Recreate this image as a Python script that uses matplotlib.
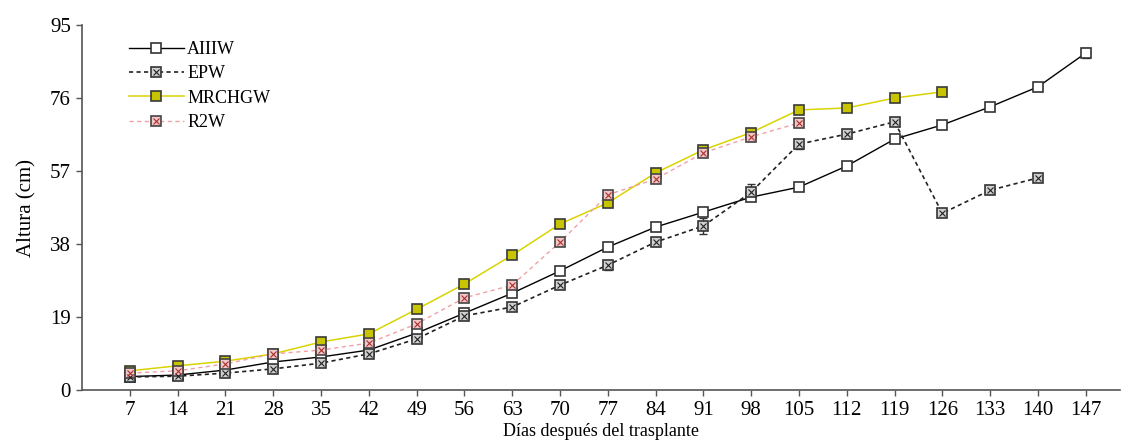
import numpy as np
import matplotlib.pyplot as plt
from matplotlib.legend_handler import HandlerTuple

plt.rcParams['font.family'] = ['Liberation Serif', 'DejaVu Serif']

# Days after transplant
days = [7, 14, 21, 28, 35, 42, 49, 56, 63, 70, 77, 84, 91, 98, 105, 112, 119, 126, 133, 140, 147]

# Plant height (cm) per treatment
aiiiw = [3.5, 3.9, 5.2, 7.3, 8.6, 10.4, 14.8, 20.0, 25.2, 31.0, 37.2, 42.4, 46.3, 50.2,
         52.8, 58.3, 65.3, 69.0, 73.7, 78.9, 87.7]
aiiiw_err = [0.3, 0.3, 0.4, 0.5, 0.5, 0.5, 0.6, 0.6, 0.6, 0.6, 0.7, 0.7, 0.7, 0.8,
             0.6, 0.6, 0.7, 0.6, 0.8, 0.8, 1.2]
epw_days = days[:20]
epw = [3.4, 3.6, 4.4, 5.5, 7.0, 9.4, 13.3, 19.3, 21.6, 27.3, 32.5, 38.5, 42.7, 51.5,
       64.0, 66.6, 69.8, 46.0, 52.0, 55.2]
epw_err = [0.3, 0.3, 0.4, 0.4, 0.5, 0.5, 0.6, 0.7, 0.7, 0.8, 1.2, 0.9, 2.0, 2.0,
           1.2, 1.0, 0.9, 0.6, 0.5, 0.5]
mrchgw_days = days[:18]
mrchgw = [5.0, 6.3, 7.5, 9.4, 12.5, 14.6, 21.0, 27.6, 35.1, 43.2, 48.7, 56.5, 62.5, 67.0,
          72.9, 73.4, 76.0, 77.6]
mrchgw_err = [0.4, 0.4, 0.4, 0.5, 0.5, 0.5, 0.5, 0.6, 0.6, 0.6, 1.0, 0.8, 0.6, 0.6,
              0.6, 0.5, 0.5, 0.5]
r2w_days = days[:15]
r2w = [4.4, 5.0, 6.8, 9.4, 10.4, 12.2, 17.2, 24.0, 27.3, 38.5, 50.8, 54.9, 61.7, 65.9, 69.5]
r2w_err = [0.3, 0.4, 0.5, 0.5, 0.6, 0.6, 0.8, 0.7, 0.7, 0.7, 1.0, 0.8, 0.6, 0.6, 0.6]

yticks = [0, 19, 38, 57, 76, 95]

fig = plt.figure(figsize=(11.22, 4.43), dpi=100)
ax = fig.add_axes([0.0731, 0.1196, 0.925, 0.824])

ms = 7
h1, = ax.plot(days, aiiiw, '-s', color='black', lw=1, mfc='white', mec='#333333',
              ms=ms, mew=1.2, zorder=3)
ax.errorbar(days, aiiiw, yerr=aiiiw_err, fmt='none', ecolor='#333333', elinewidth=1,
            capsize=3, zorder=2)

h2, = ax.plot(epw_days, epw, 's', ls=(0, (2.5, 2)), color='#222222', lw=1.2,
              mfc='#d0d0d0', mec='#333333', ms=ms, mew=1.2, zorder=3)
h2x, = ax.plot(epw_days, epw, 'x', ls='none', color='#222222', ms=4, mew=0.8, zorder=4)
ax.errorbar(epw_days, epw, yerr=epw_err, fmt='none', ecolor='#333333', elinewidth=1,
            capsize=3, zorder=2)

h3, = ax.plot(mrchgw_days, mrchgw, '-s', color='#d8d400', lw=1.1, mfc='#c9c400',
              mec='#3a3a3a', ms=ms, mew=1.2, zorder=3)
ax.errorbar(mrchgw_days, mrchgw, yerr=mrchgw_err, fmt='none', ecolor='#555555',
            elinewidth=1, capsize=3, zorder=2)

h4, = ax.plot(r2w_days, r2w, 's', ls=(0, (3, 2.5)), color='#f2a0a8', lw=1,
              mfc='#f4c6c6', mec='#444444', ms=ms, mew=1.2, zorder=3)
h4x, = ax.plot(r2w_days, r2w, 'x', ls='none', color='#aa3030', ms=4, mew=0.8, zorder=4)
ax.errorbar(r2w_days, r2w, yerr=r2w_err, fmt='none', ecolor='#555555', elinewidth=1,
            capsize=3, zorder=2)

ax.set_xlim(0, 152)
ax.set_ylim(0, 95)
ax.set_xticks(days)
ax.set_yticks(yticks)
ax.tick_params(labelsize=15, length=4, width=1, color='#555555', pad=4)
ax.tick_params(axis='x', pad=4)
for s in ['top', 'right']:
    ax.spines[s].set_visible(False)
for s in ['left', 'bottom']:
    ax.spines[s].set_color('#555555')
    ax.spines[s].set_linewidth(1.2)

ax.set_ylabel('Altura (cm)', fontsize=15, labelpad=10)
ax.set_xlabel('Días después del trasplante', fontsize=13, labelpad=2)

ax.legend([h1, (h2, h2x), h3, (h4, h4x)], ['AIIIW', 'EPW', 'MRCHGW', 'R2W'],
          handler_map={tuple: HandlerTuple(ndivide=1)}, loc='upper left',
          bbox_to_anchor=(0.03, 1.0), frameon=False, fontsize=13, handlelength=3,
          handletextpad=0.2, labelspacing=0.4)

fig.savefig('out.png', dpi=100)
